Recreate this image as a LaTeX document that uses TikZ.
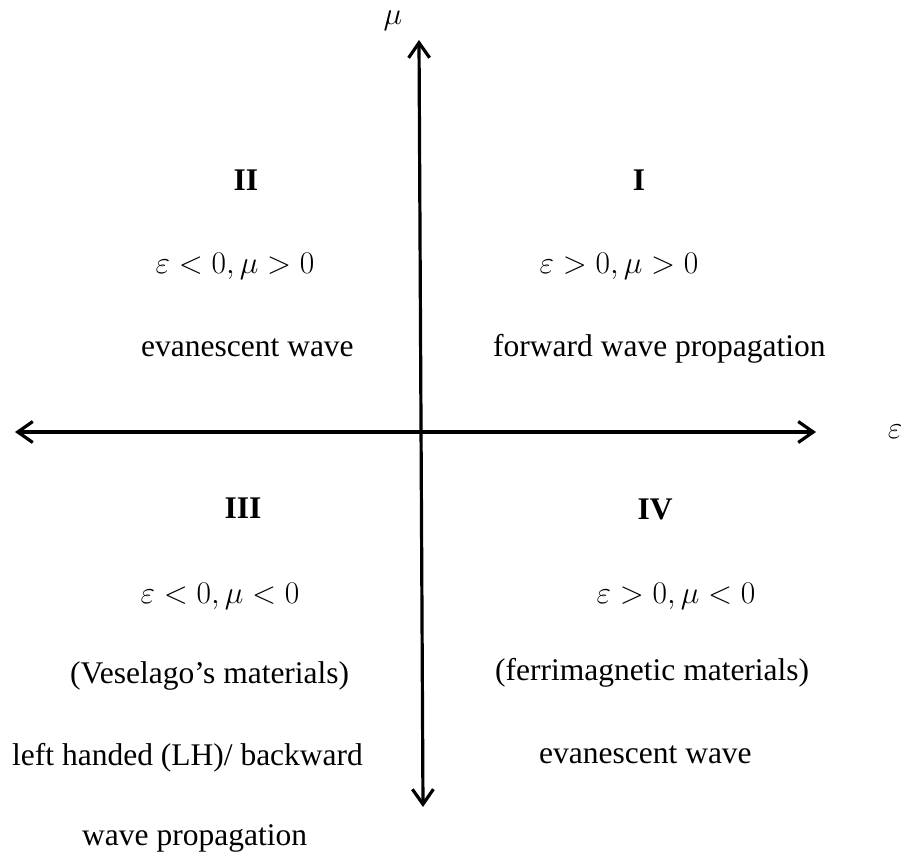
\RequirePackage{fix-cm}
\documentclass[tikz,border=0pt]{standalone}
\usepackage{fontspec}
\setmainfont{Liberation Serif}
\usetikzlibrary{arrows.meta}
\begin{document}
\begin{tikzpicture}[x=1pt,y=-1pt,
  lbl/.style={font=\fontsize{31.5}{38}\selectfont, inner sep=0pt, anchor=base},
  lblw/.style={lbl, anchor=base west},
  roman/.style={lbl, font=\fontsize{31.5}{38}\selectfont\bfseries},
  axisline/.style={line width=3.2pt, {Straight Barb[length=15pt,width=21pt]}-{Straight Barb[length=15pt,width=21pt]}}]
\useasboundingbox (0,0) rectangle (903,854);
% axes
\coordinate (top) at (419,40);
\coordinate (bot) at (423,807);
\coordinate (lft) at (15,432);
\coordinate (rgt) at (816,432);
\draw[axisline] (top) -- (bot);
\draw[axisline] (lft) -- (rgt);
\node[lbl, anchor=center] (mu) at (393,21) {\(\mu\)};
\node[lbl, anchor=center] (eps) at (895,432) {\(\varepsilon\)};
% quadrant II
\node[roman] (q2) at (246,190) {II};
\node[lbl] (q2m) at (235,273) {\(\varepsilon<0,\mu>0\)};
\node[lblw] (q2t) at (141,356) {evanescent wave};
% quadrant I
\node[roman] (q1) at (639,190) {I};
\node[lbl] (q1m) at (619,273) {\(\varepsilon>0,\mu>0\)};
\node[lblw] (q1t) at (493,356) {forward wave propagation};
% quadrant III
\node[roman] (q3) at (243,518) {III};
\node[lbl] (q3m) at (220,603) {\(\varepsilon<0,\mu<0\)};
\node[lblw] (q3a) at (70,683) {(Veselago’s materials)};
\node[lblw] (q3b) at (12,765) {left handed (LH)/ backward};
\node[lblw] (q3c) at (82,845) {wave propagation};
% quadrant IV
\node[roman] (q4) at (655,519) {IV};
\node[lbl] (q4m) at (676,603) {\(\varepsilon>0,\mu<0\)};
\node[lblw] (q4a) at (495,680) {(ferrimagnetic materials)};
\node[lblw] (q4b) at (539,763) {evanescent wave};
\end{tikzpicture}
\end{document}
